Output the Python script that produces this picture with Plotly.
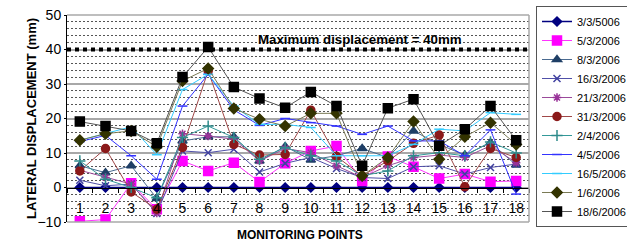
import plotly.graph_objects as go

points = [str(i) for i in range(1, 19)]

s_0303 = [0]*18
s_0503 = [-9.8, -9.3, 1.2, -6.3, 7.7, 4.8, 7.2, 1.6, 7.0, 10.6, 12.0, 1.9, 9.0, 6.0, 2.6, 3.9, 1.7, 1.9]
s_0803 = [6.3, 4.3, 6.3, -3.2, 13.5, 14.7, 14.7, 7.7, 11.9, 8.0, 9.2, 11.3, 8.7, 16.4, 12.5, 9.4, 13.0, 6.5]
s_1603 = [2.1, 0.5, 1.0, -7.5, 10.6, 10.1, 11.1, 4.5, 7.0, 8.7, 5.5, 2.9, 2.6, 6.0, 6.3, 3.9, 5.8, 6.8]
s_2103 = [5.0, 2.9, 1.0, -7.4, 15.6, 14.9, 14.0, 7.7, 11.3, 10.1, 6.3, 2.9, 6.3, 8.7, 9.4, 8.7, 12.1, 7.2]
s_3103 = [4.8, 11.3, -1.3, -6.3, 11.6, 33.8, 12.5, 9.4, 9.6, 22.4, 9.0, 3.4, 7.7, 12.8, 15.2, 0.2, 11.3, 8.7]
s_0204 = [7.7, 2.4, 0.0, -3.0, 14.5, 17.8, 14.5, 8.2, 11.6, 9.2, 7.7, 3.4, 4.8, 9.2, 10.1, 9.2, 13.2, 10.0]
s_0405 = [13.3, 15.1, 9.2, 2.4, 23.6, 32.8, 22.5, 18.0, 20.0, 18.8, 17.8, 15.4, 17.8, 13.5, 13.5, 9.2, 16.7, -1.9]
s_1605 = [13.7, 15.6, 17.6, 9.5, 28.4, 32.8, 23.6, 18.3, 18.3, 17.4, 9.2, 9.2, 9.2, 12.5, 16.9, 16.4, 21.7, 21.2]
s_0106 = [13.7, 15.6, 16.4, 11.8, 30.9, 34.5, 22.9, 19.8, 17.8, 21.5, 21.5, 3.4, 8.7, 19.1, 8.2, 14.7, 18.8, 12.5]
s_1806 = [19.1, 17.8, 16.4, 12.8, 32.0, 40.7, 29.1, 25.8, 23.1, 27.7, 23.6, 6.3, 23.0, 25.6, 12.1, 16.9, 23.6, 13.7]

series_names = ["3/3/5006", "5/3/2006", "8/3/2006", "16/3/2006", "21/3/2006", "31/3/2006",
                "2/4/2006", "4/5/2006", "16/5/2006", "1/6/2006", "18/6/2006"]
series_values = [s_0303, s_0503, s_0803, s_1603, s_2103, s_3103, s_0204, s_0405, s_1605, s_0106, s_1806]

max_disp = 40
y_title = "LATERAL DISPLACEMENT (mm)"
x_title = "MONITORING POINTS"
max_label = "Maximum displacement = 40mm"

styles = [
    dict(line="#000080", marker="#000080", symbol="diamond", size=7, lw=1.5),
    dict(line="#FF33FF", marker="#FF00FF", symbol="square", size=9, lw=1),
    dict(line="#4A6A90", marker="#1F3F66", symbol="triangle-up", size=8, lw=1),
    dict(line="#5050A8", marker="#4040A0", symbol="x-thin-open", size=7, lw=1),
    dict(line="#9A4A9A", marker="#993399", symbol="asterisk-open", size=7, lw=1),
    dict(line="#A04848", marker="#8B1A1A", symbol="circle", size=8, lw=1),
    dict(line="#339999", marker="#2E8B8B", symbol="cross-thin-open", size=8, lw=1),
    dict(line="#3333FF", marker="#3333FF", symbol="line-ew-open", size=7, lw=1),
    dict(line="#33CCFF", marker="#33CCFF", symbol="line-ew-open", size=7, lw=1),
    dict(line="#7A7A55", marker="#333300", symbol="diamond", size=8, lw=1),
    dict(line="#555555", marker="#000000", symbol="square", size=9, lw=1),
]

fig = go.Figure()
for name, vals, st in zip(series_names, series_values, styles):
    fig.add_trace(go.Scatter(
        x=points, y=vals, name=name, mode="lines+markers",
        line=dict(color=st["line"], width=st["lw"]),
        marker=dict(symbol=st["symbol"], size=st["size"], color=st["marker"],
                    line=dict(color=st["marker"], width=1.5)),
    ))

font = "Liberation Sans, Arial, sans-serif"
L, R, T, B = 67, 529, 15, 222
PW, PH = R - L, B - T

fig.update_layout(
    width=627, height=243,
    margin=dict(l=L, r=627 - R, t=T, b=243 - B, autoexpand=False),
    paper_bgcolor="white", plot_bgcolor="white",
    font=dict(family=font, color="black"),
    showlegend=True,
    legend=dict(x=(536 - L) / PW, xanchor="left", y=(B - 6) / PH, yanchor="top",
                bordercolor="#555555", borderwidth=1, bgcolor="white",
                font=dict(size=11, family=font), itemwidth=30,
                tracegroupgap=0, maxheight=240),
    xaxis=dict(type="category", range=[-0.5, 17.5], anchor="free", position=10/60,
               showgrid=False, showline=True, linecolor="black", linewidth=1,
               ticks="outside", ticklen=4, tickcolor="black", tickson="boundaries",
               tickangle=0, tickfont=dict(size=14, family=font), ticklabelstandoff=8),
    yaxis=dict(range=[-10, 50], dtick=10, showgrid=True, gridcolor="#A8A8A8", gridwidth=1.5,
               zeroline=False, showline=True, linecolor="black", linewidth=1,
               ticks="outside", ticklen=2, tickcolor="black",
               tickfont=dict(size=14, family=font), ticklabelstandoff=0,
               minor=dict(dtick=2, showgrid=True, gridcolor="#555555", griddash="2px,2px",
                          gridwidth=1)),
)

# plot-area frame (top, right, bottom)
for x0, y0, x1, y1 in [(0, 1, 1, 1), (1, 0, 1, 1), (0, 0, 1, 0)]:
    fig.add_shape(type="line", xref="paper", yref="paper", x0=x0, y0=y0, x1=x1, y1=y1,
                  line=dict(color="#A8A8A8", width=1.5), layer="above")
# darker line at 10
fig.add_shape(type="line", xref="paper", yref="y", x0=0, x1=1, y0=10, y1=10,
              line=dict(color="#404040", width=1), layer="between")
# maximum displacement line
fig.add_shape(type="line", xref="paper", yref="y", x0=0, x1=1, y0=max_disp, y1=max_disp,
              line=dict(color="black", width=4, dash="4px,4px"), layer="above")

fig.add_annotation(x=(360 - L) / PW, xref="paper", y=42.9, yref="y", text="<b>%s</b>" % max_label,
                   showarrow=False, font=dict(size=13.3, family=font, color="black"))
fig.add_annotation(x=(300 - L) / PW, xref="paper", y=(B - 226) / PH, yref="paper", yanchor="top",
                   text="<b>%s</b>" % x_title, showarrow=False,
                   font=dict(size=12, family=font, color="black"))
fig.add_annotation(x=(22 - L) / PW, xref="paper", y=0.5, yref="paper", textangle=-90,
                   text="<b>%s</b>" % y_title, showarrow=False,
                   font=dict(size=13, family=font, color="black"))

fig.write_html("out.html", config={"displayModeBar": False},
               post_script="document.body.style.margin='0';document.body.style.padding='0';")
